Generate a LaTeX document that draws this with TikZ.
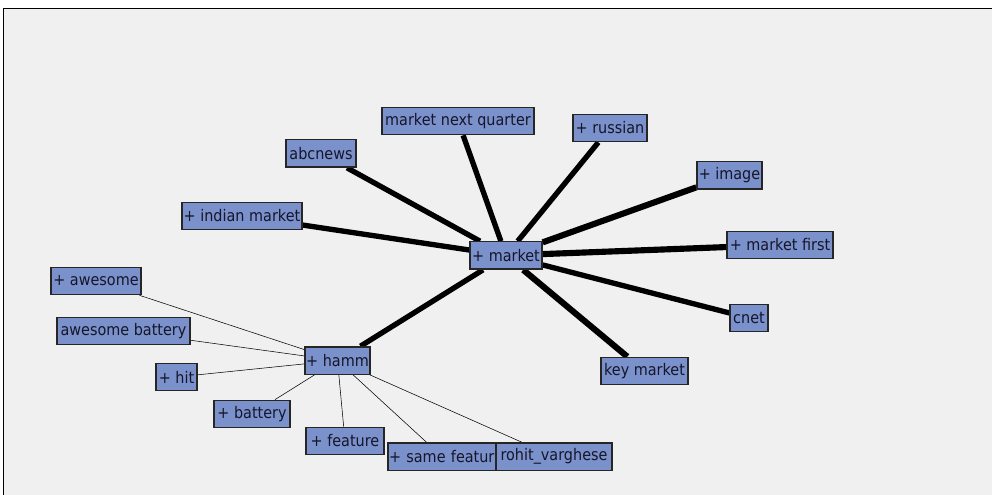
\documentclass[tikz,border=0pt]{standalone}
\usepackage{fontspec}
\setmainfont[FakeStretch=0.9]{DejaVu Sans}
\pgfdeclarelayer{bg}
\pgfdeclarelayer{edges}
\pgfsetlayers{bg,edges,main}
\definecolor{nodefill}{RGB}{122,145,204}
\definecolor{panel}{RGB}{240,240,240}
\definecolor{txt}{RGB}{22,22,40}
\definecolor{thin}{RGB}{40,40,40}
\tikzset{
  term/.style={draw=black!85, line width=1pt, fill=nodefill, text=txt,
    inner sep=0pt, minimum height=20.5pt, font=\fontsize{12}{14}\selectfont},
  heavy/.style={line width=4pt, black},
  heavier/.style={line width=4.6pt, black},
  light/.style={line width=1.4pt, thin},
}
\begin{document}
\begin{tikzpicture}[x=0.75pt,y=-0.75pt]
\useasboundingbox (0,0) rectangle (992,495);
\begin{pgfonlayer}{bg}
\fill[white] (0,0) rectangle (992,495);
\draw[line width=1.2pt, fill=panel] (3.5,8.5) rectangle (1000,510);
\end{pgfonlayer}
% market cluster
\node[term, minimum width=114pt] (mnq) at (458,121) {market next quarter};
\node[term, minimum width=55.5pt] (rus) at (610,128) {+ russian};
\node[term, minimum width=52.5pt] (abc) at (321,153.5) {abcnews};
\node[term, minimum width=48.75pt] (img) at (729.5,175.5) {+ image};
\node[term, minimum width=90pt] (ind) at (242,216) {+ indian market};
\node[term, minimum width=54pt] (mkt) at (506,255.5) {+ market};
\node[term, minimum width=79.5pt] (mf) at (780,245) {+ market first};
\node[term, minimum width=28.5pt] (cnet) at (749,318) {cnet};
\node[term, minimum width=65.25pt] (key) at (644.5,371) {key market};
% hamm cluster
\node[term, minimum width=48.75pt] (hamm) at (337.5,360.5) {+ hamm};
\node[term, minimum width=67.5pt] (aw) at (96,281) {+ awesome};
\node[term, minimum width=99.75pt] (awb) at (123.5,331) {awesome battery};
\node[term, minimum width=30.75pt] (hit) at (176.5,377) {+ hit};
\node[term, minimum width=57pt] (bat) at (252,414) {+ battery};
\node[term, minimum width=58.5pt] (feat) at (345,441) {+ feature};
\node[term, minimum width=81pt, text width=79.5pt, align=left] (same) at (442,456.5) {\mbox{+ same featur}};
\node[term, minimum width=87pt] (rohit) at (554,456.5) {rohit\_varghese};
\begin{pgfonlayer}{edges}
\draw[heavy] (mkt) -- (mnq);
\draw[heavy] (mkt) -- (rus);
\draw[heavy] (mkt) -- (abc);
\draw[heavier] (mkt) -- (img);
\draw[heavy] (mkt) -- (ind);
\draw[heavier] (mkt) -- (mf);
\draw[heavy] (mkt) -- (cnet);
\draw[heavier] (mkt) -- (key);
\draw[heavy] (mkt) -- (hamm);
\draw[light] (hamm) -- (aw);
\draw[light] (hamm) -- (awb);
\draw[light] (hamm) -- (hit);
\draw[light] (hamm) -- (bat);
\draw[light] (hamm) -- (feat);
\draw[light] (hamm) -- (same);
\draw[light] (hamm) -- (rohit);
\end{pgfonlayer}
\end{tikzpicture}
\end{document}
